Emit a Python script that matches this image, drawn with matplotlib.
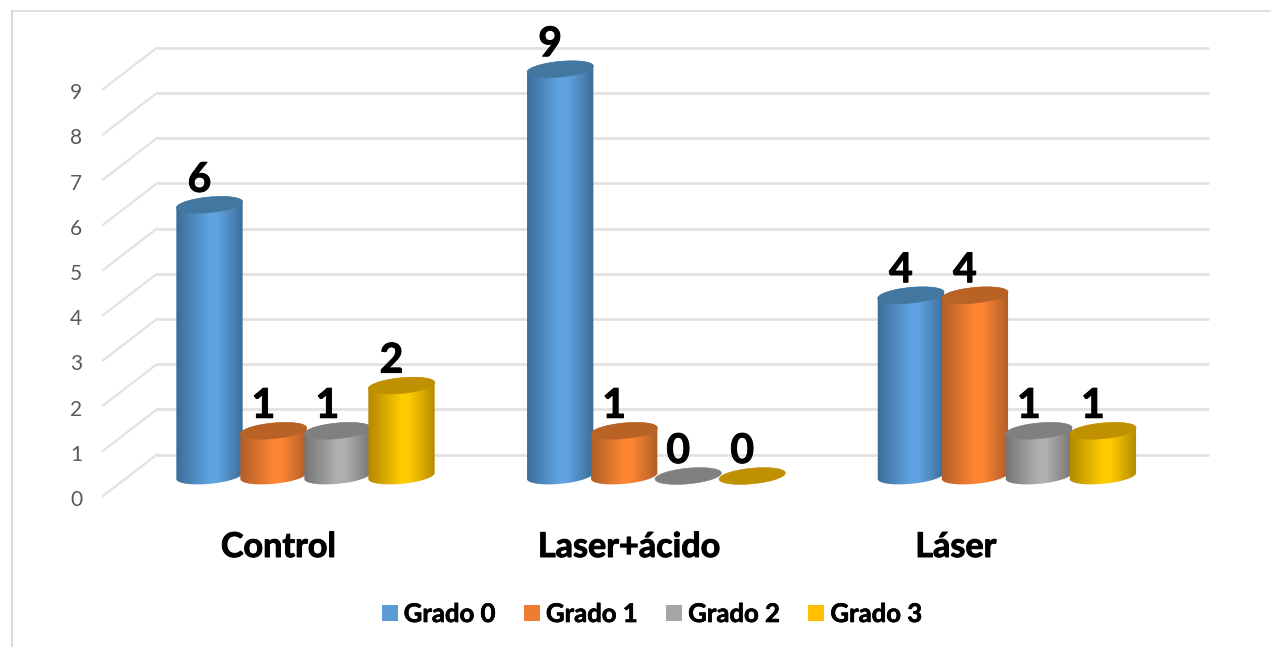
import numpy as np
import matplotlib
matplotlib.use("Agg")
import matplotlib.pyplot as plt
import matplotlib.patheffects as pe
from matplotlib.colors import LinearSegmentedColormap
from matplotlib.patches import Patch, PathPatch, Polygon
from matplotlib.path import Path

categories = ["Control", "Laser+ácido", "Láser"]
series_names = ["Grado 0", "Grado 1", "Grado 2", "Grado 3"]
grado_0 = [6, 9, 4]
grado_1 = [1, 1, 4]
grado_2 = [1, 0, 1]
grado_3 = [2, 0, 1]
y_ticks = list(range(10))

# Swatch colour, dark rim of the cylinder, lit centre, top cap.
face_colors = ["#5B9BD5", "#ED7D31", "#A5A5A5", "#FFC000"]
rim_colors = ["#3A6A94", "#AC5C28", "#727272", "#B08600"]
lit_colors = ["#60A4E2", "#FF8633", "#B0B0B0", "#FFCC00"]
cap_colors = ["#44779F", "#B86226", "#808080", "#BF9000"]

plt.rcParams["font.family"] = ["Lato", "DejaVu Sans"]

W, H = 1271, 647
fig = plt.figure(figsize=(W / 100, H / 100), dpi=100, facecolor="white")
ax = fig.add_axes([0, 0, 1, 1])

# One category step is 350.7 px and one value unit is 45.2 px.
PX_X = 1 / 350.7
PX_Y = 1 / 45.2
GROUP0_PX = 305.5
BASE_PX = 476
ax.set_xlim(-GROUP0_PX * PX_X, (W - GROUP0_PX) * PX_X)
ax.set_ylim((BASE_PX - H) * PX_Y, BASE_PX * PX_Y)
ax.axis("off")

BAR_STEP = 64 * PX_X
SEMI_MAJOR = 33.3
SEMI_MINOR = 7.8
TILT = np.deg2rad(5.5)
# Thickens the bold captions a little.
HEAVY = [pe.withStroke(linewidth=0.7, foreground="black")]


def ellipse_points(cx, cy, t):
    """Tilted ellipse outline in data units around (cx, cy)."""
    dx = SEMI_MAJOR * np.cos(t) * np.cos(TILT) - SEMI_MINOR * np.sin(t) * np.sin(TILT)
    dy = SEMI_MAJOR * np.cos(t) * np.sin(TILT) + SEMI_MINOR * np.sin(t) * np.cos(TILT)
    return np.column_stack([cx + dx * PX_X, cy + dy * PX_Y])


def draw_cylinder(cx, value, i, z):
    half = SEMI_MAJOR * PX_X
    if value > 0:
        t_low = np.linspace(np.pi, 2 * np.pi, 60)
        t_up = np.linspace(0, np.pi, 60)
        outline = np.vstack([ellipse_points(cx, 0, t_low), ellipse_points(cx, value, t_up)])
        path = Path(np.vstack([outline, outline[:1]]), closed=True)
        cmap = LinearSegmentedColormap.from_list("shade", [rim_colors[i], lit_colors[i], rim_colors[i]])
        shade = np.interp(np.linspace(0, 1, 256), [0, 0.5, 0.6, 1], [0, 0.5, 0.5, 1])[None, :]
        im = ax.imshow(shade, cmap=cmap, vmin=0, vmax=1, aspect="auto", zorder=z,
                       extent=(cx - half * 1.05, cx + half * 1.05, -1, value + 1),
                       interpolation="bilinear")
        clip = PathPatch(path, transform=ax.transData, facecolor="none", edgecolor="none")
        ax.add_patch(clip)
        im.set_clip_path(clip)
    cap = ellipse_points(cx, value, np.linspace(0, 2 * np.pi, 120))
    ax.add_patch(Polygon(cap, closed=True, facecolor=cap_colors[i], edgecolor=cap_colors[i],
                         linewidth=0.4, zorder=z + 0.1))


# Chart area frame.
ax.plot([12 * PX_X - GROUP0_PX * PX_X] * 2, [(BASE_PX - H) * PX_Y, (BASE_PX - 11) * PX_Y],
        color="#D9D9D9", lw=1.5, zorder=1)
ax.plot([12 * PX_X - GROUP0_PX * PX_X, (W - GROUP0_PX) * PX_X], [(BASE_PX - 11) * PX_Y] * 2,
        color="#D9D9D9", lw=1.2, zorder=1)

# Back wall grid and its receding floor-side strokes.
WALL_DY = (BASE_PX - 454.5) * PX_Y
wall_left = (157 - GROUP0_PX) * PX_X
wall_right = (1209 - GROUP0_PX) * PX_X
side_left = (103 - GROUP0_PX) * PX_X
side_drop = 41.5 * PX_Y
for v in y_ticks:
    ax.plot([wall_left, wall_right], [v + WALL_DY] * 2, color="#E2E2E2", lw=2.0, zorder=1,
            solid_capstyle="butt")
    ax.plot([side_left, wall_left], [v + WALL_DY - side_drop, v + WALL_DY], color="#E2E2E2",
            lw=1.6, zorder=1)
    ax.text((76 - GROUP0_PX) * PX_X, v - 24 * PX_Y, str(v), ha="center", va="center",
            fontsize=15, color="#595959", zorder=2)

# Cylinders drawn left to right so each one overlaps its left neighbour.
all_series = [grado_0, grado_1, grado_2, grado_3]
z = 3
for g in range(len(categories)):
    for i, values in enumerate(all_series):
        cx = g + (i - 1.5) * BAR_STEP
        draw_cylinder(cx, values[g], i, z)
        z += 1
        ax.text(cx - 10 * PX_X, values[g] + 24.5 * PX_Y, str(values[g]), ha="center", va="center",
                fontsize=29.5, fontweight="bold", color="black", zorder=50, path_effects=HEAVY)

# Category captions sit left of their group centres.
caption_shift = [-27, -27, -51]
for g, name in enumerate(categories):
    ax.text(g + caption_shift[g] * PX_X, (BASE_PX - 547) * PX_Y, name, ha="center", va="center",
            fontsize=24.6, fontweight="bold", color="black", zorder=50, path_effects=HEAVY)

handles = [Patch(facecolor=c, edgecolor="none", label=n) for c, n in zip(face_colors, series_names)]
legend = ax.legend(handles=handles, ncol=4, frameon=False, loc="center",
                   bbox_to_anchor=(652 / W, 1 - 614 / H), bbox_transform=fig.transFigure,
                   prop={"family": "Lato", "weight": "bold", "size": 18.5},
                   handlelength=0.62, handleheight=0.62, handletextpad=0.24, columnspacing=1.1,
                   borderpad=0, labelcolor="black")
for label in legend.get_texts():
    label.set_path_effects([pe.withStroke(linewidth=0.5, foreground="black")])

fig.savefig("out.png", dpi=100)
